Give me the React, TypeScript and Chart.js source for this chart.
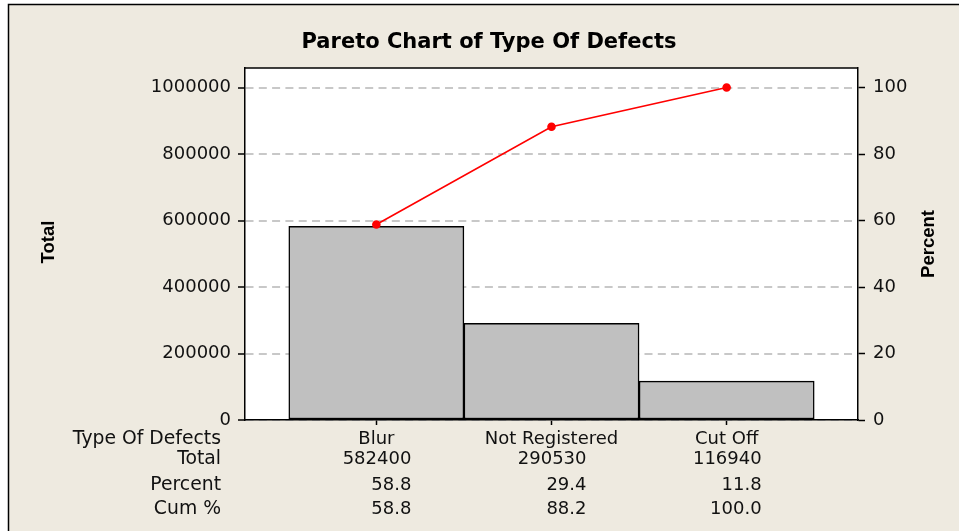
import React, { useEffect, useRef } from "react";
import { Chart, registerables } from "chart.js";
Chart.register(...registerables);

const categories = ["Blur", "Not Registered", "Cut Off"];
const totals = [582400, 290530, 116940];
const percents = [58.8, 29.4, 11.8];
const cumPercents = [58.8, 88.2, 100.0];
const totalTicks = [0, 200000, 400000, 600000, 800000, 1000000];
const percentTicks = [0, 20, 40, 60, 80, 100];
const rowLabels = ["Type Of Defects", "Total", "Percent", "Cum %"];
const titleText = "Pareto Chart of Type Of Defects";
const leftTitle = "Total";
const rightTitle = "Percent";

const W = 959;
const H = 531;
const FONT = "'DejaVu Sans', Verdana, sans-serif";

const paretoPlugin = {
  id: "paretoDecor",
  beforeDraw(chart: any) {
    const ctx = chart.ctx;
    const a = chart.chartArea;
    ctx.save();
    ctx.fillStyle = "#ffffff";
    ctx.fillRect(0, 0, W, H);
    ctx.fillStyle = "#EEEAE0";
    ctx.fillRect(8, 4, W, H);
    ctx.strokeStyle = "#000";
    ctx.lineWidth = 1.5;
    ctx.beginPath();
    ctx.moveTo(8.5, H);
    ctx.lineTo(8.5, 4.5);
    ctx.lineTo(W, 4.5);
    ctx.stroke();
    ctx.fillStyle = "#ffffff";
    ctx.fillRect(a.left, a.top, a.right - a.left, a.bottom - a.top);
    ctx.restore();
  },
  afterDraw(chart: any) {
    const ctx = chart.ctx;
    const a = chart.chartArea;
    const xs = chart.scales.x;
    ctx.save();
    ctx.strokeStyle = "#000";
    ctx.lineWidth = 1.5;
    ctx.beginPath();
    ctx.moveTo(a.left, a.top);
    ctx.lineTo(a.right, a.top);
    ctx.stroke();

    ctx.fillStyle = "#000";
    ctx.font = `bold 21px ${FONT}`;
    ctx.textAlign = "center";
    ctx.textBaseline = "middle";
    ctx.fillText(titleText, 489, 43);

    ctx.font = "bold 18.5px 'Liberation Sans', Arial, sans-serif";
    ctx.save();
    ctx.translate(49, 242);
    ctx.rotate(-Math.PI / 2);
    ctx.fillText(leftTitle, 0, 0);
    ctx.restore();
    ctx.save();
    ctx.translate(929, 244);
    ctx.rotate(-Math.PI / 2);
    ctx.fillText(rightTitle, 0, 0);
    ctx.restore();

    ctx.fillStyle = "#111";
    ctx.textBaseline = "alphabetic";
    const baselines = [443.5, 464, 489.5, 513.5];
    ctx.textAlign = "right";
    ctx.font = `18.8px ${FONT}`;
    rowLabels.forEach((l, i) => ctx.fillText(l, 221, baselines[i]));
    ctx.font = `18px ${FONT}`;
    categories.forEach((c, i) => {
      const px = xs.getPixelForValue(i);
      ctx.textAlign = "center";
      ctx.fillText(c, px, baselines[0]);
      ctx.textAlign = "right";
      ctx.fillText(String(totals[i]), px + 35, baselines[1]);
      ctx.fillText(percents[i].toFixed(1), px + 35, baselines[2]);
      ctx.fillText(cumPercents[i].toFixed(1), px + 35, baselines[3]);
    });
    ctx.restore();
  },
};

export default function App() {
  const ref = useRef<HTMLCanvasElement | null>(null);
  useEffect(() => {
    if (!ref.current) return;
    const chart = new Chart(ref.current, {
      type: "bar",
      data: {
        datasets: [
          {
            type: "line",
            label: "Cum %",
            data: cumPercents.map((v, i) => ({ x: i, y: v })),
            yAxisID: "y1",
            borderColor: "#ff0000",
            backgroundColor: "#ff0000",
            borderWidth: 1.6,
            pointRadius: 3.5,
            pointBackgroundColor: "#ff0000",
            pointBorderColor: "#ff0000",
            tension: 0,
            order: 0,
          } as any,
          {
            type: "bar",
            label: "Total",
            data: totals.map((v, i) => ({ x: i, y: v })),
            yAxisID: "y",
            backgroundColor: "#C0C0C0",
            borderColor: "#000",
            borderWidth: 1.5,
            borderSkipped: false,
            barPercentage: 1,
            categoryPercentage: 1,
            order: 1,
          } as any,
        ],
      },
      options: {
        responsive: false,
        animation: false,
        layout: { padding: { top: 68, left: 0, right: 0, bottom: 0 } },
        plugins: {
          legend: { display: false },
          tooltip: { enabled: false },
          title: { display: false },
        },
        scales: {
          x: {
            type: "linear",
            min: -0.75,
            max: 2.75,
            offset: false,
            afterBuildTicks: (s: any) => {
              s.ticks = categories.map((_, i) => ({ value: i }));
            },
            afterFit: (s: any) => {
              s.height = H - 420;
            },
            ticks: { display: false },
            grid: {
              offset: false,
              drawOnChartArea: false,
              drawTicks: true,
              tickLength: 5,
              color: "#000",
              tickWidth: 1.5,
            },
            border: { display: true, color: "#000", width: 1.5 },
          },
          y: {
            type: "linear",
            position: "left",
            min: 0,
            max: 1058800,
            afterBuildTicks: (s: any) => {
              s.ticks = totalTicks.map((v) => ({ value: v }));
            },
            afterFit: (s: any) => {
              s.width = 245;
            },
            ticks: {
              color: "#111",
              padding: 7,
              font: { family: "'DejaVu Sans'", size: 18 },
              callback: (v: any) => String(v),
            },
            grid: {
              color: "#C8C8C8",
              lineWidth: 2,
              drawTicks: true,
              tickLength: 7,
              tickColor: "#000",
              tickWidth: 1.5,
              tickBorderDash: [],
            },
            border: { display: true, color: "#000", width: 1.5, dash: [8, 5.3] },
          },
          y1: {
            type: "linear",
            position: "right",
            min: 0,
            max: 105.88,
            afterBuildTicks: (s: any) => {
              s.ticks = percentTicks.map((v) => ({ value: v }));
            },
            afterFit: (s: any) => {
              s.width = W - 858;
            },
            ticks: {
              color: "#111",
              padding: 8,
              font: { family: "'DejaVu Sans'", size: 18 },
              callback: (v: any) => String(v),
            },
            grid: {
              drawOnChartArea: false,
              drawTicks: true,
              tickLength: 7,
              color: "#000",
              tickWidth: 1.5,
            },
            border: { display: true, color: "#000", width: 1.5 },
          },
        },
      } as any,
      plugins: [paretoPlugin],
    });
    return () => chart.destroy();
  }, []);
  return (
    <div style={{ position: "absolute", left: 0, top: 0, width: W, height: H }}>
      <canvas ref={ref} width={W} height={H} style={{ display: "block" }} />
    </div>
  );
}
